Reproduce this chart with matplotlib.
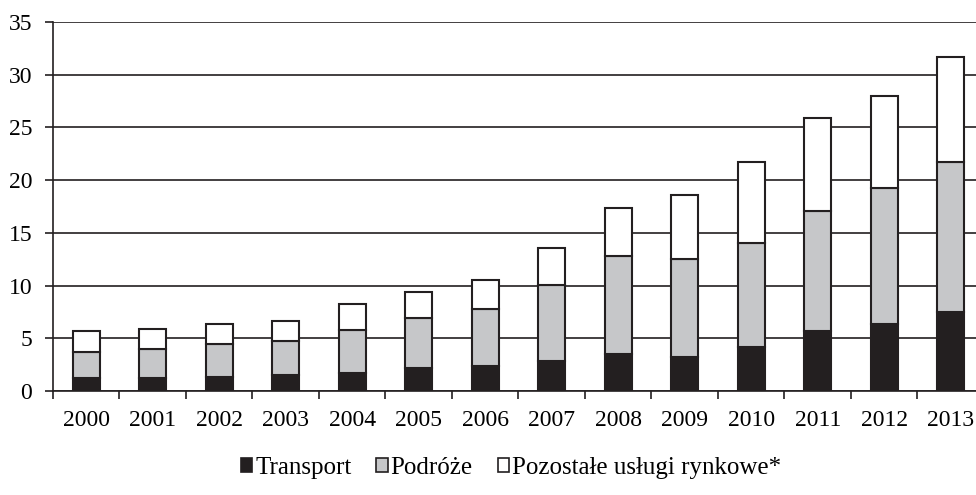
import matplotlib.pyplot as plt
import numpy as np
from matplotlib.patches import Patch

years = ['2000', '2001', '2002', '2003', '2004', '2005', '2006',
         '2007', '2008', '2009', '2010', '2011', '2012', '2013']
transport = [1.20, 1.26, 1.36, 1.49, 1.71, 2.15, 2.40,
             2.85, 3.51, 3.26, 4.20, 5.69, 6.36, 7.52]
podroze = [2.53, 2.74, 3.07, 3.25, 4.08, 4.75, 5.35,
           7.21, 9.33, 9.26, 9.81, 11.41, 12.87, 14.18]
pozostale = [1.97, 1.85, 1.90, 1.90, 2.43, 2.46, 2.78,
             3.51, 4.49, 6.08, 7.69, 8.83, 8.76, 10.02]

labels = ['Transport', 'Podróże', 'Pozostałe usługi rynkowe*']
colors = ['#231f20', '#c6c7c9', '#ffffff']

plt.rcParams['font.family'] = ['Liberation Serif', 'DejaVu Serif']

fig = plt.figure(figsize=(9.76, 4.95), dpi=100)
ax = fig.add_axes([53 / 976, (495 - 391) / 495, 923 / 976, 369 / 495])

x = np.arange(len(years))
bottom = np.zeros(len(years))
for vals, col in zip([transport, podroze, pozostale], colors):
    ax.bar(x, vals, width=0.41, bottom=bottom, color=col,
           edgecolor='#231f20', linewidth=1.5, zorder=3)
    bottom += np.array(vals)

ax.set_ylim(0, 35)
ax.set_yticks(range(0, 36, 5))
ax.set_xlim(-0.5, 13.38)
ax.set_xticks(x)
ax.set_xticklabels(years)
ax.set_xticks(np.arange(-0.5, 13.5, 1), minor=True)
ax.tick_params(axis='x', which='major', length=0, pad=14, labelsize=17)
ax.tick_params(axis='x', which='minor', length=6, width=1.2, color='#231f20')
ax.tick_params(axis='y', length=6, width=1.2, color='#231f20', pad=9,
               labelsize=17)

ax.yaxis.grid(True, color='#231f20', linewidth=1.2)
ax.set_axisbelow(True)
for s in ['top', 'right']:
    ax.spines[s].set_visible(False)
for s in ['left', 'bottom']:
    ax.spines[s].set_linewidth(1.2)
    ax.spines[s].set_color('#231f20')

handles = [Patch(facecolor=c, edgecolor='#231f20', linewidth=1.2) for c in colors]
fig.legend(handles, labels, loc='center', bbox_to_anchor=(511 / 976, 27 / 495),
           ncol=3, frameon=False, fontsize=18, handlelength=0.45,
           handleheight=0.45, handletextpad=0.12, columnspacing=1.0)

fig.savefig('out.png', dpi=100)
